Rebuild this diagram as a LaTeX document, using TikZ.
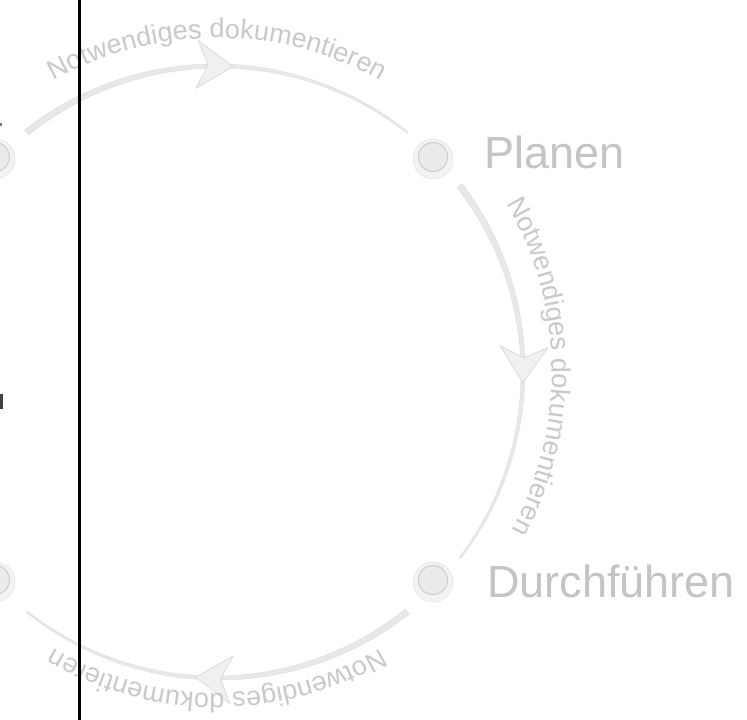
\documentclass[tikz,border=0pt]{standalone}
\usepackage{fontspec}
\setmainfont{Liberation Sans}
\usetikzlibrary{decorations.text}
\definecolor{arcfill}{HTML}{E8E8E8}
\definecolor{arcedge}{HTML}{D9D9D9}
\definecolor{arctext}{HTML}{C9C9C9}
\definecolor{labeltext}{HTML}{C4C4C4}
\definecolor{tipfill}{HTML}{F0F0F0}
\definecolor{tipedge}{HTML}{D6D6D6}
\definecolor{ringfill}{HTML}{F3F3F3}
\definecolor{ringedge}{HTML}{E6E6E6}
\definecolor{corefill}{HTML}{EBEBEB}
\definecolor{coreedge}{HTML}{CCCCCC}
\definecolor{markgray}{HTML}{404040}
\newcommand\arcfont{\fontsize{27}{27}\selectfont}
\newcommand\cycR{306}
\newcommand\cycX{217}
\newcommand\cycY{-372}
% tapered arc, drawn clockwise from #1 to #2 (degrees)
\newcommand\taperarc[2]{%
  \filldraw[fill=arcfill, draw=arcedge, line width=0.3pt]
    plot[domain=#1:#2, samples=90, variable=\t]
      ({\cycX+(\cycR+3.2-2.4*((#1)-\t)/((#1)-(#2)))*cos(\t)},
       {\cycY+(\cycR+3.2-2.4*((#1)-\t)/((#1)-(#2)))*sin(\t)})
    -- plot[domain=#2:#1, samples=90, variable=\t]
      ({\cycX+(\cycR-3.2+2.4*((#1)-\t)/((#1)-(#2)))*cos(\t)},
       {\cycY+(\cycR-3.2+2.4*((#1)-\t)/((#1)-(#2)))*sin(\t)})
    -- cycle;}
% arrow tip at angle #1, pointing clockwise
\newcommand\cyctip[1]{%
  \begin{scope}[shift={({\cycX+\cycR*cos(#1)},{\cycY+\cycR*sin(#1)})}, rotate=#1-90]
    \filldraw[fill=tipfill, draw=tipedge, line width=0.6pt, line join=round]
      (0,0) -- (-36,24) -- (-25,0) -- (-36,-24) -- cycle;
  \end{scope}}
% curved text centred between #1 and #2 at radius #3
\newcommand\cyctext[3]{%
  \path[decorate, decoration={text along path,
      text={|\arcfont|Notwendiges dokumentieren},
      text align=center, text color=arctext}]
    ({\cycX+#3*cos(#1)},{\cycY+#3*sin(#1)})
    arc[start angle=#1, end angle=#2, radius=#3];}
\tikzset{
  ring/.style={circle, minimum size=40pt, inner sep=0pt, fill=ringfill, draw=ringedge, line width=0.6pt},
  core/.style={circle, minimum size=29pt, inner sep=0pt, fill=corefill, draw=coreedge, line width=1pt},
  lbl/.style={text=labeltext, font=\fontsize{45}{45}\selectfont, anchor=base west, inner sep=0pt},
  rule/.style={line width=2.3pt, black}
}
\begin{document}
\begin{tikzpicture}[x=1pt,y=1pt]
\useasboundingbox (0,0) rectangle (747,-720);
\fill[white] (0,0) rectangle (747,-720);
% bullets
\node[ring] (plr) at (433,-159) {};
\node[core] (pl) at (433,-157) {};
\node[ring] (dur) at (433,-582) {};
\node[core] (du) at (433,-580) {};
\node[ring] (tlr) at (-5,-159) {};
\node[core] (tl) at (-5,-157) {};
\node[ring] (blr) at (-5,-582) {};
\node[core] (bl) at (-5,-580) {};
% labels
\node[lbl] (planen) at (484,-168) {Planen};
\node[lbl] (durch) at (487,-597) {Durchführen};
% arcs
\taperarc{128.5}{51.5}
\taperarc{37.5}{-37.5}
\taperarc{-51.5}{-128.5}
\cyctip{87}
\cyctip{-2}
\cyctip{266}
\cyctext{135}{45}{334}
\cyctext{46}{-44}{335}
\cyctext{-45}{-135}{321}
% left edge fragments
\fill[markgray] (0,-394) rectangle (2.5,-409);
\fill[markgray!70] (0,-122.5) rectangle (1.5,-125.5);
% vertical rule
\coordinate (rtop) at (79.5,0);
\coordinate (rbot) at (79.5,-720);
\draw[rule] (rtop) -- (rbot);
\end{tikzpicture}
\end{document}
